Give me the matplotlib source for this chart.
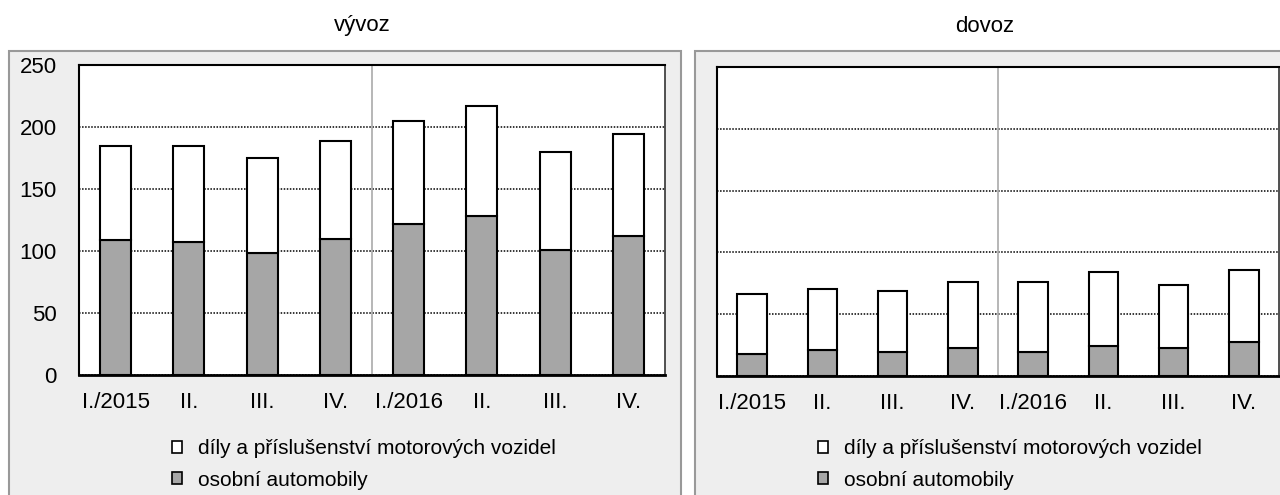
import matplotlib.pyplot as plt
from matplotlib.patches import Rectangle, Patch
import numpy as np

plt.rcParams['font.family'] = ['Liberation Sans', 'DejaVu Sans']

# quarters 2015-2016
quarters = ["I./2015", "II.", "III.", "IV.", "I./2016", "II.", "III.", "IV."]

# export (vývoz)
export_cars = [109, 107, 98, 110, 122, 128, 101, 112]
export_total = [185, 185, 175, 189, 205, 217, 180, 194]

# import (dovoz)
import_cars = [18, 21, 19.5, 22.5, 19.5, 24, 22.5, 27.5]
import_total = [66, 70, 69, 76, 76, 84, 74, 86]

labels = ["díly a příslušenství motorových vozidel", "osobní automobily"]
gray = "#a6a6a6"
bg = "#eeeeee"

W, H = 1280, 495
fig = plt.figure(figsize=(W / 100, H / 100), dpi=100)

# grey panel boxes
fig.add_artist(Rectangle((9 / W, -0.02), (681 - 9) / W, 1.02 - 51 / H,
                         transform=fig.transFigure, facecolor=bg,
                         edgecolor="#999999", lw=1.5, zorder=0))
fig.add_artist(Rectangle((695 / W, -0.02), 0.5, 1.02 - 51 / H,
                         transform=fig.transFigure, facecolor=bg,
                         edgecolor="#999999", lw=1.5, zorder=0))


def draw_panel(rect, cars, total, title, title_x, show_y, leg_x):
    ax = fig.add_axes(rect)
    x = np.arange(len(quarters))
    parts = np.array(total) - np.array(cars)
    ax.bar(x, cars, width=0.42, color=gray, edgecolor="black", lw=1.5, zorder=3)
    ax.bar(x, parts, bottom=cars, width=0.42, color="white", edgecolor="black",
           lw=1.5, zorder=3)
    ax.set_xlim(-0.5, 7.5)
    ax.set_ylim(0, 250)
    ax.set_yticks([0, 50, 100, 150, 200, 250])
    ax.yaxis.grid(True, linestyle=(0, (1, 1)), color="black", lw=1.1, zorder=1)
    ax.axvline(3.5, color="#aaaaaa", lw=1.2, zorder=2)
    ax.set_xticks(x)
    ax.set_xticklabels(quarters)
    ax.tick_params(length=0, labelsize=16)
    ax.tick_params(axis="x", pad=12)
    ax.tick_params(axis="y", pad=16)
    if not show_y:
        ax.set_yticklabels([])
    for s in ax.spines.values():
        s.set_color("black")
        s.set_linewidth(1.5)
    ax.spines["bottom"].set_linewidth(2)
    ax.spines["right"].set_color("#333333")
    ax.spines["right"].set_linewidth(1.2)
    fig.text(title_x / W, 1 - 26 / H, title, ha="center", va="center", fontsize=16)
    handles = [Patch(facecolor="white", edgecolor="black", lw=1.2),
               Patch(facecolor=gray, edgecolor="black", lw=1.2)]
    fig.legend(handles, labels, loc="upper left",
               bbox_to_anchor=(leg_x / W, 1 - 439 / H), frameon=False,
               fontsize=15, handlelength=0.5, handleheight=0.5, borderpad=0,
               borderaxespad=0, handletextpad=0.75, labelspacing=0.6)
    return ax


draw_panel([79 / W, 1 - 375 / H, (665 - 79) / W, 310 / H], export_cars,
           export_total, "vývoz", 362, True, 172)
draw_panel([717 / W, 1 - 376 / H, (1279 - 717) / W, 309 / H], import_cars,
           import_total, "dovoz", 985, False, 818)

fig.savefig("out.png", dpi=100)
